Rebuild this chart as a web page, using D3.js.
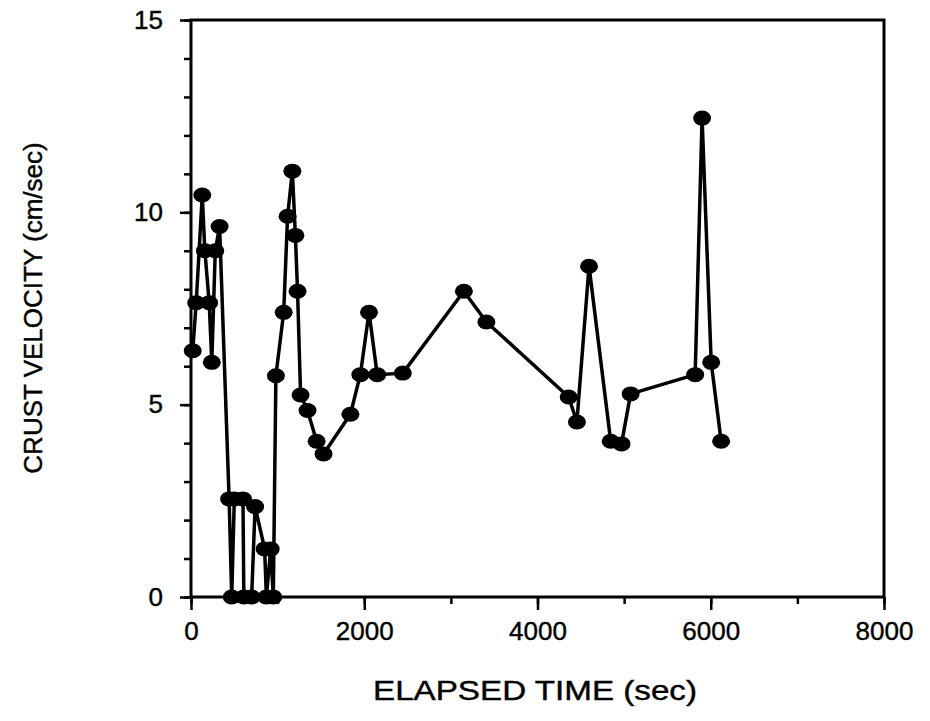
<!DOCTYPE html>
<html>
<head>
<meta charset="utf-8">
<script src="https://cdn.jsdelivr.net/npm/d3@7"></script>
<style>
  body { margin: 0; background: #fff; }
  text { font-family: "Liberation Sans", Arial, sans-serif; fill: #000; }
</style>
</head>
<body>
<div class="canvas"></div>
<script>
// elapsed time (sec) and crust velocity (cm/sec)
const times = [20, 60, 130, 160, 210, 240, 280, 330,
  440, 470, 500, 600, 610, 700, 740, 850, 870, 920, 950,
  980, 1070, 1115, 1170, 1205, 1230, 1265, 1345, 1450, 1530,
  1840, 1955, 2055, 2150, 2445, 3150, 3410, 4360, 4455, 4595,
  4845, 4970, 5075, 5820, 5900, 6005, 6120];
const velocity = [6.4, 7.65, 10.45, 9.0, 7.65, 6.1, 9.0, 9.63,
  2.55, 0, 2.55, 2.55, 0, 0, 2.35, 1.25, 0, 1.25, 0,
  5.75, 7.4, 9.9, 11.07, 9.4, 7.95, 5.25, 4.85, 4.05, 3.72,
  4.75, 5.78, 7.4, 5.78, 5.82, 7.95, 7.15, 5.2, 4.55, 8.6,
  4.05, 3.98, 5.28, 5.78, 12.45, 6.1, 4.05];

const xTicks = [0, 2000, 4000, 6000, 8000];
const yTicks = [0, 5, 10, 15];

const data = times.map((t, i) => ({t: t, v: velocity[i]}));

const width = 930, height = 721;
const margin = {top: 20, right: 46, bottom: 124, left: 191};
const graphWidth = width - margin.left - margin.right;
const graphHeight = height - margin.top - margin.bottom;

const svg = d3.select('.canvas')
  .append('svg')
  .attr('width', width)
  .attr('height', height);

const graph = svg.append('g')
  .attr('transform', `translate(${margin.left}, ${margin.top})`);

// scales
const x = d3.scaleLinear().domain([0, 8000]).range([0, graphWidth]);
const y = d3.scaleLinear().domain([0, 15]).range([graphHeight, 0]);

// minor ticks
const xMinor = d3.axisBottom(x).tickValues(d3.range(0, 8001, 1000))
  .tickSize(7).tickFormat('');
const yMinor = d3.axisLeft(y).tickValues(d3.range(0, 16, 1))
  .tickSize(7).tickFormat('');

graph.append('g').attr('transform', `translate(0, ${graphHeight})`).call(xMinor);
graph.append('g').call(yMinor);

// major ticks and labels
const xAxis = d3.axisBottom(x).tickValues(xTicks).tickSize(13).tickPadding(8)
  .tickFormat(d3.format('d'));
const yAxis = d3.axisLeft(y).tickValues(yTicks).tickSize(11).tickPadding(17)
  .tickFormat(d3.format('d'));

const xAxisGroup = graph.append('g')
  .attr('transform', `translate(0, ${graphHeight})`)
  .call(xAxis);
const yAxisGroup = graph.append('g').call(yAxis);

[xAxisGroup, yAxisGroup].forEach(g => {
  g.selectAll('text')
    .style('font-size', '26px')
    .attr('fill', '#000')
    .attr('stroke', '#000')
    .attr('stroke-width', 0.4);
});
xAxisGroup.selectAll('text').attr('dy', '0.85em');

graph.selectAll('.domain').remove();
graph.selectAll('.tick line').attr('stroke', '#000').attr('stroke-width', 2.5);

// frame
graph.append('rect')
  .attr('x', 0).attr('y', 0)
  .attr('width', graphWidth).attr('height', graphHeight)
  .attr('fill', 'none')
  .attr('stroke', '#000')
  .attr('stroke-width', 3);

// data line
const line = d3.line().x(d => x(d.t)).y(d => y(d.v));

graph.append('path')
  .datum(data)
  .attr('d', line)
  .attr('fill', 'none')
  .attr('stroke', '#000')
  .attr('stroke-width', 3.5)
  .attr('stroke-linejoin', 'round');

graph.selectAll('ellipse')
  .data(data)
  .enter()
  .append('ellipse')
  .attr('cx', d => x(d.t))
  .attr('cy', d => y(d.v))
  .attr('rx', 9)
  .attr('ry', 7.5)
  .attr('fill', '#000');

// axis titles
svg.append('text')
  .attr('x', 535)
  .attr('y', 700)
  .attr('text-anchor', 'middle')
  .attr('textLength', 324)
  .attr('lengthAdjust', 'spacingAndGlyphs')
  .attr('stroke', '#000')
  .attr('stroke-width', 0.4)
  .style('font-size', '27px')
  .text('ELAPSED TIME (sec)');

svg.append('text')
  .attr('transform', 'translate(42, 308) rotate(-90)')
  .attr('text-anchor', 'middle')
  .attr('stroke', '#000')
  .attr('stroke-width', 0.4)
  .style('font-size', '26px')
  .text('CRUST VELOCITY (cm/sec)');
</script>
</body>
</html>
